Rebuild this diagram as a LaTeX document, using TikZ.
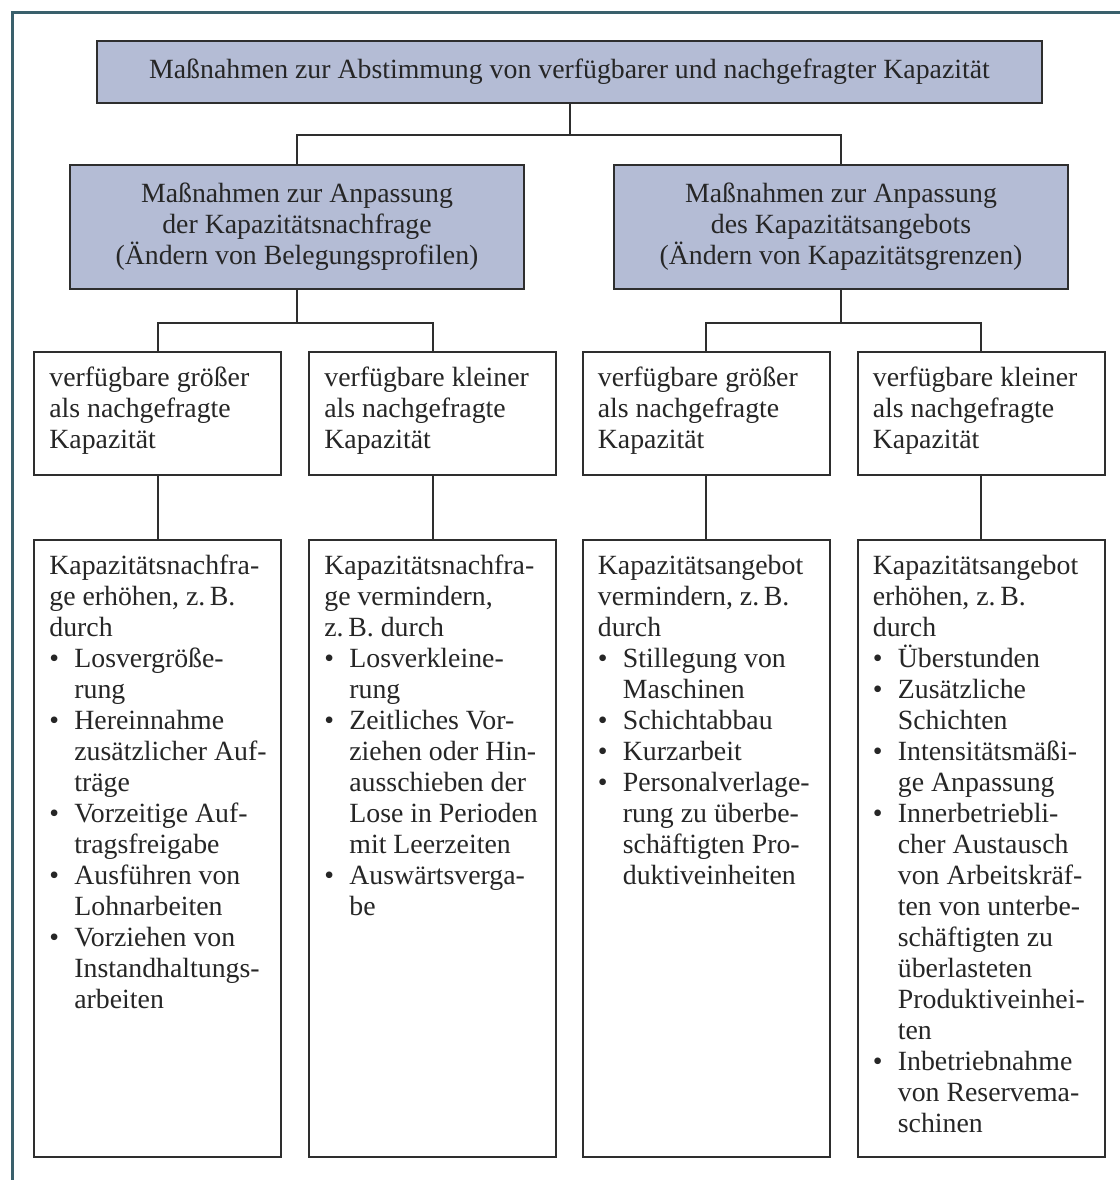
\documentclass[tikz,border=0pt]{standalone}
\usepackage{fontspec}
\setmainfont{Liberation Serif}
\usetikzlibrary{calc}
\definecolor{frm}{RGB}{58,96,108}
\definecolor{lav}{RGB}{180,188,213}
\colorlet{ln}{black!82}
\colorlet{txt}{black!85}
\newcommand\mainfs{\fontsize{13.9pt}{15.5pt}\selectfont}
\def\px{0.5pt}
\newcommand\bul{\makebox[12.5pt][l]{\textbullet}}
\newcommand\ind{\hspace*{12.5pt}}
\tikzset{
  bx/.style={draw=ln, line width=1pt, inner sep=0pt, outer sep=0pt},
  hbx/.style={bx, fill=lav, align=center, font=\mainfs, text=txt},
  kbx/.style={bx, fill=white, minimum width=247*\px},
  ktxt/.style={anchor=north west, align=left, font=\mainfs, text=txt,
               inner sep=0pt},
  cn/.style={draw=ln, line width=1pt},
  frame/.style={draw=frm, line width=1.5pt},
}
\def\Xa{157.5}
\def\Xb{432.5}
\def\Xc{706}
\def\Xd{981}

\begin{document}
\begin{tikzpicture}[x=0.5pt, y=-0.5pt]
\useasboundingbox (0,0) rectangle (1120,1180);

%% outer frame (open to the right and bottom)
\draw[frame] (12,1180) -- (12,12) -- (1120,12);

%% ============================================================
%% LEVEL 1 + 2
%% ============================================================
\node[hbx, minimum width=945*\px, minimum height=62*\px] (top) at (569.5, 72)
  {Maßnahmen zur Abstimmung von verfügbarer und nachgefragter Kapazität};

\node[hbx, minimum width=454*\px, minimum height=124*\px] (sa) at (297, 227)
  {Maßnahmen zur Anpassung\\der Kapazitätsnachfrage\\(Ändern von Belegungsprofilen)};
\node[hbx, minimum width=454*\px, minimum height=124*\px] (sb) at (841, 227)
  {Maßnahmen zur Anpassung\\des Kapazitätsangebots\\(Ändern von Kapazitätsgrenzen)};

\draw[cn] (top.south) -- ++(0,32) -| (sa.north);
\draw[cn] (top.south) -- ++(0,32) -| (sb.north);

%% ============================================================
%% LEVEL 3: verfuegbare vs. nachgefragte Kapazitaet
%% ============================================================
\node[kbx, minimum height=123*\px] (c1) at (\Xa, 413.5) {};
\node[kbx, minimum height=123*\px] (c2) at (\Xb, 413.5) {};
\node[kbx, minimum height=123*\px] (c3) at (\Xc, 413.5) {};
\node[kbx, minimum height=123*\px] (c4) at (\Xd, 413.5) {};

\node[ktxt] (c1t) at ([xshift=7.5pt, yshift=-7.5pt] c1.north west)
  {verfügbare größer\\als nachgefragte\\Kapazität};
\node[ktxt] (c2t) at ([xshift=7.5pt, yshift=-7.5pt] c2.north west)
  {verfügbare kleiner\\als nachgefragte\\Kapazität};
\node[ktxt] (c3t) at ([xshift=7.5pt, yshift=-7.5pt] c3.north west)
  {verfügbare größer\\als nachgefragte\\Kapazität};
\node[ktxt] (c4t) at ([xshift=7.5pt, yshift=-7.5pt] c4.north west)
  {verfügbare kleiner\\als nachgefragte\\Kapazität};

\draw[cn] (sa.south) -- ++(0,34) -| (c1.north);
\draw[cn] (sa.south) -- ++(0,34) -| (c2.north);
\draw[cn] (sb.south) -- ++(0,34) -| (c3.north);
\draw[cn] (sb.south) -- ++(0,34) -| (c4.north);

%% ============================================================
%% LEVEL 4: Massnahmen im Einzelnen
%% ============================================================
\node[kbx, minimum height=617*\px] (d1) at (\Xa, 848.5) {};
\node[kbx, minimum height=617*\px] (d2) at (\Xb, 848.5) {};
\node[kbx, minimum height=617*\px] (d3) at (\Xc, 848.5) {};
\node[kbx, minimum height=617*\px] (d4) at (\Xd, 848.5) {};

\node[ktxt] (d1t) at ([xshift=7.5pt, yshift=-7.5pt] d1.north west)
  {Kapazitätsnachfra-\\ge erhöhen, z.\,B.\\durch\\
   \bul Losvergröße-\\\ind rung\\
   \bul Hereinnahme\\\ind zusätzlicher Auf-\\\ind träge\\
   \bul Vorzeitige Auf-\\\ind tragsfreigabe\\
   \bul Ausführen von\\\ind Lohnarbeiten\\
   \bul Vorziehen von\\\ind Instandhaltungs-\\\ind arbeiten};
\node[ktxt] (d2t) at ([xshift=7.5pt, yshift=-7.5pt] d2.north west)
  {Kapazitätsnachfra-\\ge vermindern,\\z.\,B. durch\\
   \bul Losverkleine-\\\ind rung\\
   \bul Zeitliches Vor-\\\ind ziehen oder Hin-\\\ind ausschieben der\\
   \ind Lose in Perioden\\\ind mit Leerzeiten\\
   \bul Auswärtsverga-\\\ind be};
\node[ktxt] (d3t) at ([xshift=7.5pt, yshift=-7.5pt] d3.north west)
  {Kapazitätsangebot\\vermindern, z.\,B.\\durch\\
   \bul Stillegung von\\\ind Maschinen\\
   \bul Schichtabbau\\
   \bul Kurzarbeit\\
   \bul Personalverlage-\\\ind rung zu überbe-\\\ind schäftigten Pro-\\
   \ind duktiveinheiten};
\node[ktxt] (d4t) at ([xshift=7.5pt, yshift=-7.5pt] d4.north west)
  {Kapazitätsangebot\\erhöhen, z.\,B.\\durch\\
   \bul Überstunden\\
   \bul Zusätzliche\\\ind Schichten\\
   \bul Intensitätsmäßi-\\\ind ge Anpassung\\
   \bul Innerbetriebli-\\\ind cher Austausch\\\ind von Arbeitskräf-\\
   \ind ten von unterbe-\\\ind schäftigten zu\\\ind überlasteten\\
   \ind Produktiveinhei-\\\ind ten\\
   \bul Inbetriebnahme\\\ind von Reservema-\\\ind schinen};

\draw[cn] (c1) -- (d1);
\draw[cn] (c2) -- (d2);
\draw[cn] (c3) -- (d3);
\draw[cn] (c4) -- (d4);

\end{tikzpicture}
\end{document}
